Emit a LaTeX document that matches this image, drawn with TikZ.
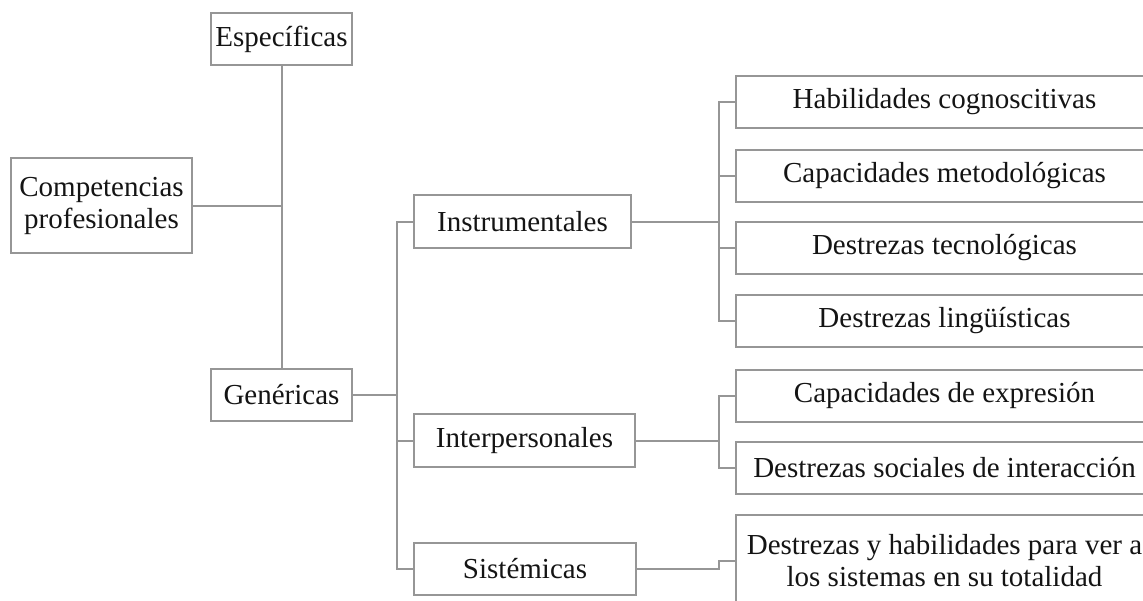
\documentclass[tikz,border=0pt]{standalone}
\usepackage{fontspec}
\setmainfont{Liberation Serif}
\definecolor{linegray}{RGB}{150,150,150}
\definecolor{inkblack}{RGB}{20,20,20}
\begin{document}
\begin{tikzpicture}[x=1pt,y=-1pt,
  box/.style={draw=linegray, line width=2pt, rectangle, inner sep=0pt,
    align=center, text=inkblack,
    font=\fontsize{29}{32}\selectfont},
  leaf/.style={box, minimum width=417pt, minimum height=52pt},
  link/.style={draw=linegray, line width=2pt}]
\useasboundingbox (0,0) rectangle (1143,600);
\clip (0,0) rectangle (1143,600);

% left part
\node[box, minimum width=141pt, minimum height=52pt] (esp) at (281.5,39) {Específicas};
\node[box, minimum width=181pt, minimum height=95pt] (comp) at (101.5,205.5) {Competencias\\profesionales};
\node[box, minimum width=141pt, minimum height=52pt] (gen) at (281.5,395) {Genéricas};

% middle column
\node[box, minimum width=217pt, minimum height=53pt] (instr) at (522.5,221.5) {Instrumentales};
\node[box, minimum width=221pt, minimum height=53pt] (inter) at (524.5,440.5) {Interpersonales};
\node[box, minimum width=222pt, minimum height=52pt] (sist) at (525,569) {Sistémicas};

% right column
\node[leaf] (hab) at (944.5,102) {Habilidades cognoscitivas};
\node[leaf] (cap) at (944.5,175.5) {Capacidades metodológicas};
\node[leaf] (dtec) at (944.5,248) {Destrezas tecnológicas};
\node[leaf] (dling) at (944.5,321) {Destrezas lingüísticas};
\node[leaf] (cexp) at (944.5,395.5) {Capacidades de expresión};
\node[leaf] (dsoc) at (944.5,468) {Destrezas sociales de interacción};
\node[leaf, minimum height=92pt] (dsis) at (944.5,561) {Destrezas y habilidades para ver a\\los sistemas en su totalidad};

% junction points
\coordinate (jg) at (397,395);
\coordinate (ji) at (719,221.5);
\coordinate (jp) at (719,440.5);
\coordinate (js) at (719,569);

% connectors
\draw[link] (esp.south) -- (gen.north);
\draw[link] (comp.east) -- (comp.east -| esp.south);

\draw[link] (gen.east) -- (jg);
\draw[link] (instr.west) -| (jg);
\draw[link] (sist.west) -| (jg);
\draw[link] (inter.west) -- (inter.west -| jg);

\draw[link] (instr.east) -- (ji);
\draw[link] (hab.west) -| (ji);
\draw[link] (dling.west) -| (ji);
\draw[link] (cap.west) -- (cap.west -| ji);
\draw[link] (dtec.west) -- (dtec.west -| ji);

\draw[link] (inter.east) -- (jp);
\draw[link] (cexp.west) -| (jp);
\draw[link] (dsoc.west) -| (jp);

\draw[link] (sist.east) -- (js) |- (dsis.west);
\end{tikzpicture}
\end{document}
